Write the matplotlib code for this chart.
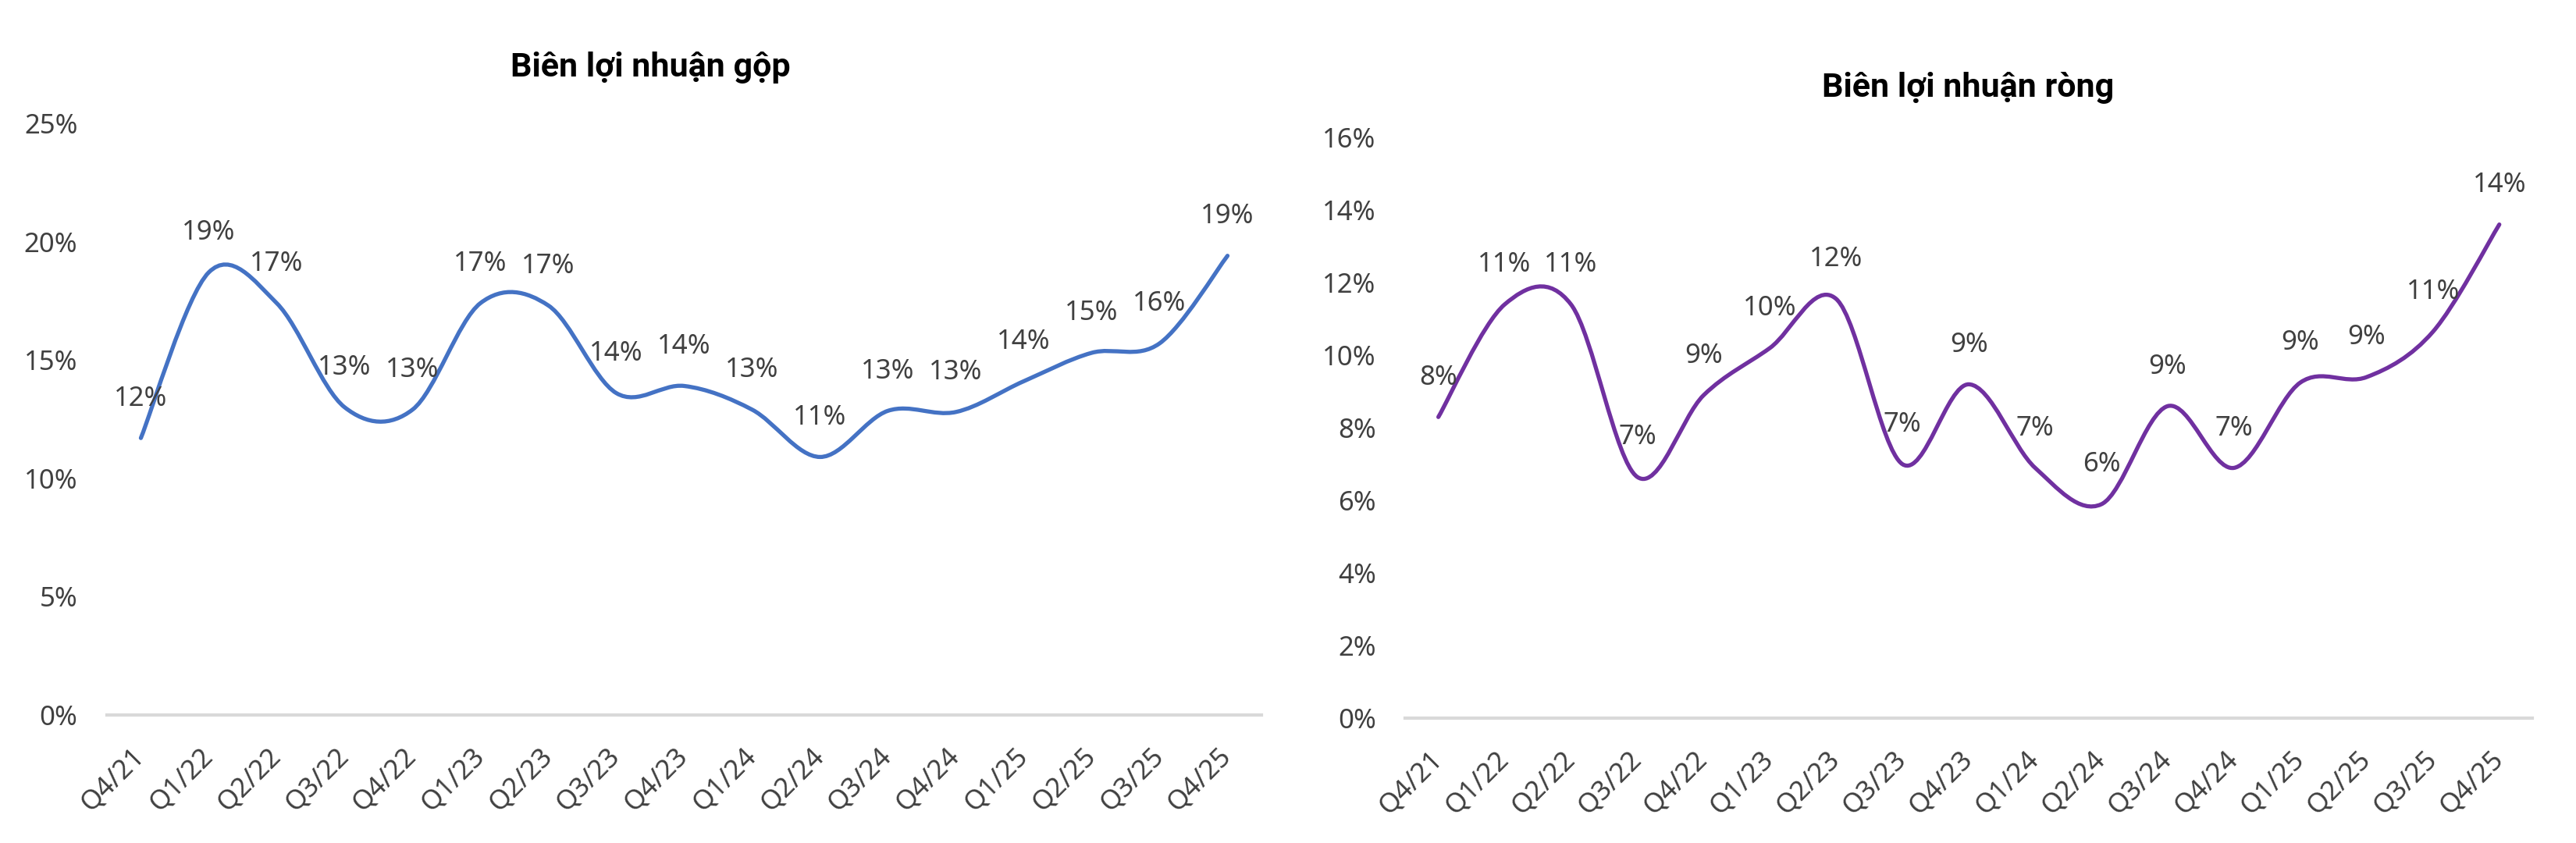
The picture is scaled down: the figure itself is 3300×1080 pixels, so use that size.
import matplotlib
matplotlib.use("Agg")
import matplotlib.pyplot as plt
from matplotlib.path import Path
from matplotlib.patches import PathPatch

plt.rcParams["font.family"] = ["Noto Sans", "DejaVu Sans"]

quarters = ["Q4/21", "Q1/22", "Q2/22", "Q3/22", "Q4/22", "Q1/23", "Q2/23", "Q3/23",
            "Q4/23", "Q1/24", "Q2/24", "Q3/24", "Q4/24", "Q1/25", "Q2/25", "Q3/25", "Q4/25"]

# gross margin (%)
gross_margin = [11.7, 18.7, 17.4, 13.0, 12.9, 17.4, 17.3, 13.6, 13.9,
                12.9, 10.9, 12.85, 12.8, 14.1, 15.3, 15.7, 19.4]

# net margin (%)
net_margin = [8.3, 11.4, 11.4, 6.65, 8.9, 10.2, 11.55, 7.0, 9.2,
              6.9, 5.9, 8.6, 6.9, 9.25, 9.4, 10.65, 13.6]

TEXT_COLOR = "#404040"
TITLE_FONT = ["Roboto", "Liberation Sans", "DejaVu Sans"]


def smooth_path(xs, ys):
    # excel-like smoothed line: catmull-rom as cubic bezier segments
    n = len(xs)
    pts = list(zip(xs, ys))
    verts = [pts[0]]
    codes = [Path.MOVETO]
    for i in range(n - 1):
        p0 = pts[max(i - 1, 0)]
        p1 = pts[i]
        p2 = pts[i + 1]
        p3 = pts[min(i + 2, n - 1)]
        c1 = (p1[0] + (p2[0] - p0[0]) / 6, p1[1] + (p2[1] - p0[1]) / 6)
        c2 = (p2[0] - (p3[0] - p1[0]) / 6, p2[1] - (p3[1] - p1[1]) / 6)
        verts += [c1, c2, p2]
        codes += [Path.CURVE4] * 3
    return Path(verts, codes)


def draw_panel(ax, values, color, ymax, ystep):
    x = list(range(len(quarters)))
    patch = PathPatch(smooth_path(x, values), facecolor="none", edgecolor=color,
                      lw=3.8, capstyle="round", joinstyle="round")
    ax.add_patch(patch)

    for i, v in enumerate(values):
        ax.annotate(f"{v:.0f}%", (i, v), xytext=(0, 30), textcoords="offset points",
                    ha="center", va="baseline", fontsize=25, color=TEXT_COLOR)

    ax.set_xlim(-0.5, len(quarters) - 0.5)
    ax.set_ylim(0, ymax)
    ax.set_yticks(range(0, ymax + 1, ystep))
    ax.set_yticklabels([f"{t}%" for t in range(0, ymax + 1, ystep)])
    ax.set_xticks(x)
    ax.set_xticklabels(quarters, rotation=45, ha="right", va="center",
                       rotation_mode="anchor")

    for side in ["top", "right", "left"]:
        ax.spines[side].set_visible(False)
    ax.spines["bottom"].set_color("#D9D9D9")
    ax.spines["bottom"].set_linewidth(3)

    ax.tick_params(axis="both", length=0, labelsize=25, labelcolor=TEXT_COLOR)
    ax.tick_params(axis="y", pad=27)
    ax.tick_params(axis="x", pad=34)


fig = plt.figure(figsize=(33, 10.8), dpi=100)

ax1 = fig.add_axes([0.0415, 0.1519, 0.4482, 0.7019])
draw_panel(ax1, gross_margin, "#4472C4", 25, 5)
fig.text(0.2524, 1 - 98 / 1080, "Biên lợi nhuận gộp", ha="center", va="baseline",
         fontsize=31, fontweight="bold", color="black", family=TITLE_FONT)

ax2 = fig.add_axes([0.5455, 0.1477, 0.4376, 0.6894])
draw_panel(ax2, net_margin, "#7030A0", 16, 2)
fig.text(0.764, 1 - 124 / 1080, "Biên lợi nhuận ròng", ha="center", va="baseline",
         fontsize=31, fontweight="bold", color="black", family=TITLE_FONT)

plt.savefig("out.png", dpi=100)
